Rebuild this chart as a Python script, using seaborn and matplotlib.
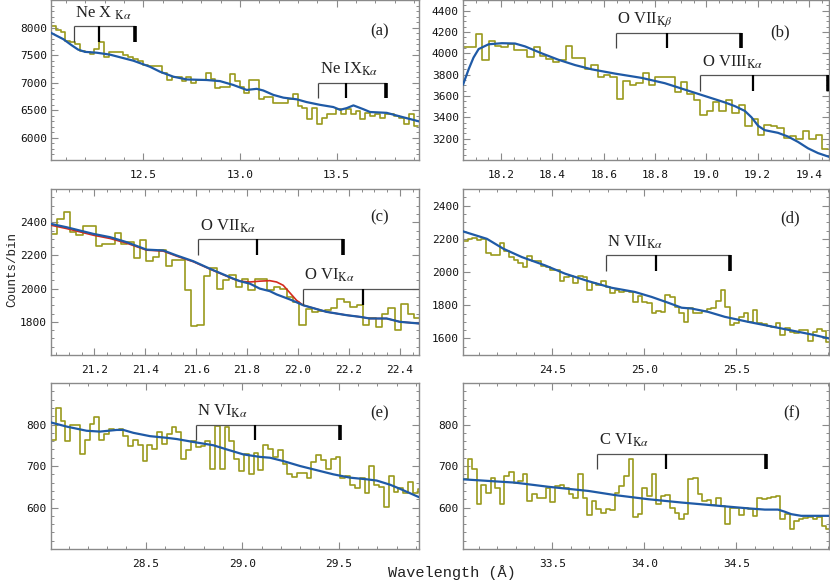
import numpy as np
import pandas as pd
import seaborn as sns
import matplotlib
matplotlib.use("Agg")
import matplotlib.pyplot as plt
from matplotlib.ticker import AutoMinorLocator, FormatStrFormatter, MultipleLocator

# ---- data (counts per 0.025 A bin) ----
bin_width = 0.025

# panel (a): Ne X / Ne IX region
a_start = 12.023
a_counts = [8030, 7950, 7920, 7760, 7730, 7700, 7580, 7550, 7520, 7610,
            7740, 7470, 7560, 7550, 7560, 7500, 7460, 7430, 7400, 7320,
            7310, 7310, 7300, 7180, 7050, 7110, 7100, 7030, 7110, 7000,
            7050, 7050, 7180, 7075, 6910, 6930, 6930, 7160, 7030, 6925,
            6820, 7045, 7045, 6700, 6750, 6750, 6640, 6640, 6640, 6700,
            6790, 6580, 6550, 6335, 6550, 6260, 6365, 6425, 6425, 6520,
            6425, 6520, 6425, 6485, 6335, 6455, 6395, 6440, 6365, 6425,
            6430, 6395, 6365, 6260, 6425, 6210]
a_model_wl = [12.023, 12.087, 12.130, 12.164, 12.199, 12.259, 12.328, 12.449,
              12.535, 12.587, 12.656, 12.725, 12.828, 12.897, 12.966, 13.035,
              13.087, 13.121, 13.173, 13.225, 13.294, 13.345, 13.414, 13.483,
              13.518, 13.552, 13.587, 13.639, 13.673, 13.759, 13.828, 13.926]
a_model = [7905, 7790, 7680, 7600, 7560, 7545, 7510, 7400,
           7290, 7200, 7110, 7060, 7050, 7030, 6960, 6870,
           6890, 6860, 6780, 6730, 6700, 6650, 6600, 6560,
           6510, 6540, 6590, 6520, 6470, 6455, 6390, 6300]

# panel (b): O VII Kbeta / O VIII Kalpha
b_start = 18.051
b_counts = [4060, 4060, 4183, 3942, 4115, 4066, 4060, 4090, 4030, 4030,
            3970, 4060, 3973, 3950, 3920, 3936, 4070, 3960, 3960, 3853,
            3890, 3780, 3797, 3775, 3571, 3741, 3705, 3726, 3818, 3705,
            3780, 3780, 3780, 3633, 3735, 3617, 3565, 3426, 3457, 3540,
            3457, 3565, 3441, 3519, 3317, 3386, 3231, 3324, 3317, 3302,
            3209, 3225, 3194, 3271, 3194, 3231, 3101]
b_model_wl = [18.051, 18.073, 18.092, 18.112, 18.151, 18.203, 18.254, 18.293,
              18.358, 18.423, 18.488, 18.553, 18.644, 18.747, 18.838, 18.916,
              18.994, 19.072, 19.111, 19.150, 19.176, 19.202, 19.227, 19.279,
              19.318, 19.357, 19.396, 19.435, 19.478]
b_model = [3705, 3850, 3960, 4040, 4085, 4095, 4092, 4065,
           4000, 3940, 3890, 3850, 3810, 3770, 3720, 3660,
           3600, 3540, 3505, 3460, 3400, 3320, 3280, 3255,
           3220, 3170, 3110, 3065, 3030]

# panel (c): O VII Kalpha / O VI Kalpha
c_start = 21.030
c_counts = [2330, 2420, 2460, 2340, 2324, 2380, 2378, 2257, 2269, 2269,
            2338, 2269, 2283, 2183, 2293, 2166, 2193, 2233, 2136, 2172,
            2172, 1991, 1774, 1780, 2076, 2122, 1995, 2052, 2082, 2011,
            2056, 1991, 2056, 2060, 1990, 2010, 1995, 1951, 1921, 1780,
            1875, 1861, 1865, 1871, 1881, 1935, 1921, 1891, 1901, 1780,
            1820, 1770, 1850, 1881, 1750, 1905, 1850, 1820]
c_model_wl = [21.030, 21.091, 21.196, 21.262, 21.327, 21.405, 21.471, 21.523,
              21.589, 21.654, 21.746, 21.772, 21.811, 21.850, 21.889, 21.916,
              21.942, 21.968, 21.994, 22.020, 22.112, 22.191, 22.243, 22.282,
              22.348, 22.400, 22.475]
c_model = [2390, 2370, 2330, 2310, 2280, 2235, 2230, 2200,
           2165, 2120, 2060, 2045, 2030, 2000, 1985, 1965,
           1950, 1935, 1918, 1900, 1860, 1840, 1830, 1820,
           1820, 1800, 1790]
c_model_abs = [2382, 2362, 2322, 2302, 2274, 2232, 2226, 2196,
               2162, 2118, 2058, 2045, 2040, 2045, 2048, 2040,
               2020, 1975, 1930, 1900, 1860, 1840, 1830, 1820,
               1820, 1800, 1790]

# panel (d): N VII Kalpha
d_start = 24.014
d_counts = [2189, 2197, 2207, 2190, 2200, 2117, 2103, 2105, 2173, 2127,
            2092, 2072, 2052, 2028, 2098, 2068, 2068, 2036, 2032, 2012,
            2012, 1948, 1968, 1976, 1936, 1978, 1968, 1891, 1932, 1922,
            1948, 1912, 1871, 1891, 1881, 1883, 1877, 1821, 1857, 1817,
            1811, 1755, 1767, 1760, 1861, 1851, 1791, 1751, 1700, 1781,
            1751, 1755, 1767, 1777, 1781, 1825, 1891, 1791, 1680, 1694,
            1731, 1755, 1700, 1771, 1690, 1686, 1674, 1670, 1694, 1620,
            1660, 1640, 1634, 1650, 1650, 1586, 1640, 1654, 1645, 1580]
d_model_wl = [24.014, 24.144, 24.234, 24.334, 24.460, 24.569, 24.695, 24.822,
              24.948, 25.039, 25.129, 25.202, 25.256, 25.346, 25.437, 25.563,
              25.654, 25.744, 25.835, 25.925, 26.003]
d_model = [2245, 2200, 2140, 2090, 2040, 1990, 1945, 1905,
           1880, 1850, 1815, 1785, 1780, 1760, 1730, 1700,
           1680, 1660, 1640, 1620, 1600]

# panel (e): N VI Kalpha
e_start = 28.009
e_counts = [762, 840, 808, 760, 798, 798, 730, 762, 802, 818,
            762, 776, 790, 788, 790, 772, 748, 762, 750, 712,
            750, 740, 782, 752, 778, 794, 782, 718, 738, 760,
            746, 748, 760, 694, 796, 694, 794, 760, 718, 688,
            730, 682, 732, 690, 750, 742, 722, 738, 706, 680,
            674, 684, 684, 672, 710, 726, 714, 692, 716, 722,
            670, 676, 654, 648, 670, 634, 700, 654, 650, 602,
            676, 638, 648, 636, 662, 636, 645]
e_model_wl = [28.009, 28.091, 28.194, 28.263, 28.350, 28.384, 28.436, 28.522,
              28.609, 28.661, 28.747, 28.851, 28.920, 29.006, 29.092, 29.144,
              29.213, 29.300, 29.386, 29.472, 29.559, 29.645, 29.697, 29.766,
              29.818, 29.916]
e_model = [805, 795, 785, 783, 787, 787, 780, 772,
           768, 765, 758, 750, 740, 728, 722, 720,
           712, 700, 690, 680, 672, 668, 665, 655,
           645, 625]

# panel (f): C VI Kalpha
f_start = 33.014
f_counts = [668, 718, 694, 608, 654, 636, 670, 648, 608, 676,
            686, 658, 664, 682, 616, 632, 624, 624, 646, 614,
            652, 654, 646, 632, 622, 682, 624, 582, 616, 596,
            586, 596, 594, 636, 652, 676, 716, 576, 584, 646,
            628, 682, 608, 628, 630, 600, 586, 572, 584, 668,
            670, 632, 616, 618, 606, 624, 604, 560, 600, 600,
            582, 598, 596, 580, 624, 620, 622, 626, 628, 572,
            584, 548, 568, 572, 574, 576, 572, 576, 556, 548]
f_model_wl = [33.014, 33.297, 33.478, 33.695, 33.840, 34.021, 34.202, 34.382,
              34.563, 34.654, 34.726, 34.762, 34.798, 34.852, 35.003]
f_model = [668, 660, 650, 640, 630, 620, 612, 605,
           598, 595, 595, 590, 584, 580, 580]

# line markers: label, three wavelengths, bracket top and tick bottom
a_lines = [(r"Ne X $_{\mathrm{K}\alpha}$", [12.142, 12.273, 12.457], 8025, 7740),
           (r"Ne IX$_{\mathrm{K}\alpha}$", [13.406, 13.547, 13.754], 7003, 6717)]
b_lines = [(r"O VII$_{\mathrm{K}\beta}$", [18.648, 18.847, 19.134], 4193, 4050),
           (r"O VIII$_{\mathrm{K}\alpha}$", [18.977, 19.180, 19.474], 3797, 3651)]
c_lines = [(r"O VII$_{\mathrm{K}\alpha}$", [21.608, 21.840, 22.178], 2299, 2203),
           (r"O VI$_{\mathrm{K}\alpha}$", [22.020, 22.256, 22.540], 2000, 1901)]
d_lines = [(r"N VII$_{\mathrm{K}\alpha}$", [24.789, 25.061, 25.464], 2102, 2006)]
e_lines = [(r"N VI$_{\mathrm{K}\alpha}$", [28.759, 29.067, 29.507], 800, 762)]
f_lines = [(r"C VI$_{\mathrm{K}\alpha}$", [33.744, 34.115, 34.663], 730, 692)]

sns.set_theme(style="ticks")
plt.rcParams["mathtext.fontset"] = "stix"
plt.rcParams["font.family"] = ["DejaVu Sans Mono", "DejaVu Sans"]

DATA_COLOR = "#9a9a1c"
MODEL_COLOR = "#1f5aa6"
ABS_COLOR = "#d42a1e"
SPINE_COLOR = "#8a8a8a"


def draw_panel(ax, start, counts, model_wl, model, lines, tag, xlim, ylim,
               xmajor, ymajor, abs_model=None):
    # step spectrum
    edges = start + bin_width * np.arange(len(counts) + 1)
    step = pd.DataFrame({"wl": edges, "counts": list(counts) + [counts[-1]]})
    sns.lineplot(data=step, x="wl", y="counts", ax=ax, color=DATA_COLOR,
                 lw=1.2, drawstyle="steps-post", zorder=2)

    # continuum models
    if abs_model is not None:
        sns.lineplot(x=model_wl, y=abs_model, ax=ax, color=ABS_COLOR,
                     lw=1.2, zorder=3)
    sns.lineplot(x=model_wl, y=model, ax=ax, color=MODEL_COLOR, lw=1.6,
                 zorder=4)

    # rest / shifted line brackets
    for label, wl, top, bottom in lines:
        ax.hlines(top, wl[0], wl[2], color="#555555", lw=0.9, zorder=5)
        for w, lw, col in zip(wl, [0.9, 1.6, 2.6], ["#444444", "black", "black"]):
            ax.vlines(w, bottom, top, color=col, lw=lw, zorder=5)
        ax.annotate(label, xy=(wl[0], top), xytext=(1, 3),
                    textcoords="offset points", ha="left", va="bottom",
                    family="Liberation Serif", fontsize=12, color="#222222")

    ax.text(tag[1], tag[2], tag[0], transform=ax.transAxes, ha="center",
            va="center", family="Liberation Serif", fontsize=12,
            color="#222222")

    ax.set_xlim(*xlim)
    ax.set_ylim(*ylim)
    ax.set_xlabel("")
    ax.set_ylabel("")
    ax.xaxis.set_major_locator(MultipleLocator(xmajor))
    ax.yaxis.set_major_locator(MultipleLocator(ymajor))
    ax.xaxis.set_minor_locator(AutoMinorLocator())
    ax.yaxis.set_minor_locator(AutoMinorLocator())
    ax.xaxis.set_major_formatter(FormatStrFormatter("%.1f"))
    ax.yaxis.set_major_formatter(FormatStrFormatter("%d"))
    ax.tick_params(which="both", direction="in", top=True, right=True,
                   color=SPINE_COLOR, labelsize=8, labelcolor="#111111")
    ax.tick_params(axis="x", which="major", pad=7)
    ax.tick_params(axis="y", which="major", pad=3)
    ax.tick_params(which="major", length=5, width=0.8)
    ax.tick_params(which="minor", length=2.5, width=0.7)
    # the outermost labels are not printed in the original
    ax.set_xticks([t for t in ax.get_xticks() if xlim[0] < t < xlim[1] - 0.02])
    ax.set_yticks([t for t in ax.get_yticks() if ylim[0] < t < ylim[1] - 1])
    for s in ax.spines.values():
        s.set_color(SPINE_COLOR)
        s.set_linewidth(1.0)


fig = plt.figure(figsize=(8.3, 5.84), dpi=100)

ax_a = fig.add_axes([0.0614, 0.7260, 0.4434, 0.2740])
ax_b = fig.add_axes([0.5578, 0.7260, 0.4410, 0.2740])
ax_c = fig.add_axes([0.0614, 0.3921, 0.4434, 0.2842])
ax_d = fig.add_axes([0.5578, 0.3921, 0.4410, 0.2842])
ax_e = fig.add_axes([0.0614, 0.0599, 0.4434, 0.2842])
ax_f = fig.add_axes([0.5578, 0.0599, 0.4410, 0.2842])

draw_panel(ax_a, a_start, a_counts, a_model_wl, a_model, a_lines,
           ("(a)", 0.894, 0.806), (12.023, 13.926), (5600, 8500), 0.5, 500)
draw_panel(ax_b, b_start, b_counts, b_model_wl, b_model, b_lines,
           ("(b)", 0.866, 0.80), (18.051, 19.478), (3000, 4500), 0.2, 200)
draw_panel(ax_c, c_start, c_counts, c_model_wl, c_model, c_lines,
           ("(c)", 0.894, 0.83), (21.030, 22.475), (1600, 2600), 0.2, 200,
           abs_model=c_model_abs)
draw_panel(ax_d, d_start, d_counts, d_model_wl, d_model, d_lines,
           ("(d)", 0.893, 0.825), (24.014, 26.003), (1500, 2500), 0.5, 200)
draw_panel(ax_e, e_start, e_counts, e_model_wl, e_model, e_lines,
           ("(e)", 0.894, 0.82), (28.009, 29.916), (500, 900), 0.5, 100)
draw_panel(ax_f, f_start, f_counts, f_model_wl, f_model, f_lines,
           ("(f)", 0.899, 0.82), (33.014, 35.003), (500, 900), 0.5, 100)

fig.text(0.545, 0.019, "Wavelength (Å)", ha="center", va="center",
         family="Liberation Mono", fontsize=11, color="#222222")
fig.text(0.008, 0.539, "Counts/bin", ha="left", va="center", rotation=90,
         family="Liberation Mono", fontsize=9, color="#222222")

fig.savefig("out.png", dpi=100)
